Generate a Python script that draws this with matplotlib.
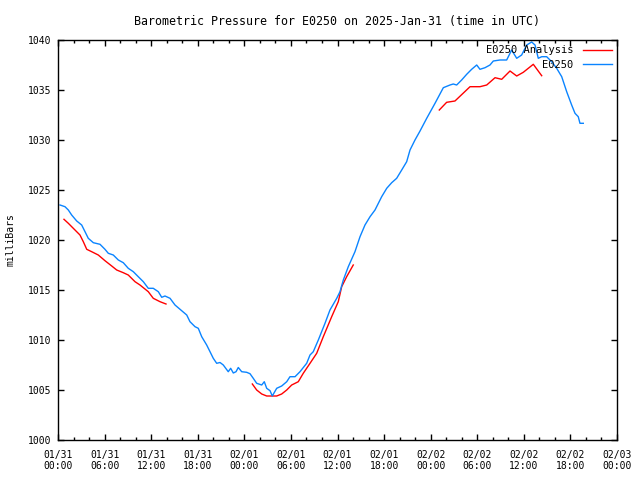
import datetime as dt
import numpy as np
import matplotlib
matplotlib.use("Agg")
import matplotlib.pyplot as plt
import matplotlib.dates as mdates

start = dt.datetime(2025, 1, 31)

# hours after 01/31 00:00 UTC, pressure in mb
obs_hours = [0.26, 0.90, 1.33, 1.76, 2.41, 3.05, 3.48, 3.90, 4.55, 5.41, 6.05, 6.48,
             7.12, 7.77, 8.41, 9.05, 9.70, 10.34, 10.99, 11.63, 12.27, 12.92, 13.36,
             13.78, 14.43, 15.07, 15.93, 16.58, 17.00, 17.65, 18.07, 18.51, 19.15,
             19.58, 20.00, 20.44, 20.87, 21.29, 21.93, 22.24, 22.58, 22.93, 23.22,
             23.66, 24.30, 24.73, 25.15, 25.59, 26.24, 26.57, 26.88, 27.31, 27.60,
             28.17, 28.81, 29.46, 29.88, 30.53, 31.17, 32.03, 32.46, 32.88, 33.53,
             34.39, 35.03, 35.90, 36.32, 36.75, 37.39, 38.25, 38.90, 39.54, 40.19,
             40.83, 41.69, 42.34, 42.98, 43.62, 44.27, 44.91, 45.34, 45.98, 46.63,
             47.49, 48.56, 49.63, 50.49, 50.91, 51.35, 51.99, 52.64, 53.28, 53.93,
             54.35, 55.00, 55.64, 56.07, 56.93, 57.79, 58.43, 59.08, 59.72, 60.37,
             61.01, 61.44, 61.86, 62.30, 62.94, 63.59, 64.23, 64.88, 65.52, 66.16,
             66.59, 67.01, 67.23, 67.66]
obs_mb = [1023.5, 1023.33, 1023.0, 1022.5, 1021.9, 1021.5, 1020.83, 1020.17, 1019.73,
          1019.57, 1019.07, 1018.67, 1018.5, 1018.0, 1017.73, 1017.17, 1016.83, 1016.33,
          1015.83, 1015.17, 1015.17, 1014.83, 1014.27, 1014.4, 1014.17, 1013.5, 1012.93,
          1012.5, 1011.83, 1011.33, 1011.17, 1010.33, 1009.5, 1008.83, 1008.17, 1007.67,
          1007.75, 1007.5, 1006.83, 1007.17, 1006.7, 1006.83, 1007.25, 1006.83, 1006.77,
          1006.63, 1006.17, 1005.67, 1005.5, 1005.83, 1005.17, 1004.93, 1004.4, 1005.17,
          1005.4, 1005.83, 1006.33, 1006.33, 1006.83, 1007.67, 1008.5, 1008.83, 1010.0,
          1011.67, 1013.0, 1014.17, 1014.83, 1016.0, 1017.33, 1018.83, 1020.33, 1021.5,
          1022.33, 1023.0, 1024.33, 1025.17, 1025.73, 1026.17, 1027.0, 1027.83, 1029.0,
          1030.0, 1030.9, 1032.17, 1033.67, 1035.23, 1035.5, 1035.6, 1035.5, 1036.0,
          1036.57, 1037.07, 1037.5, 1037.07, 1037.23, 1037.5, 1037.9, 1038.0, 1038.0,
          1039.0, 1038.17, 1038.5, 1039.5, 1039.8, 1039.5, 1038.17, 1038.33, 1038.33,
          1037.83, 1037.17, 1036.33, 1034.83, 1033.5, 1032.67, 1032.33, 1031.67, 1031.67]

# analysis: three separate runs, NaN marks the gaps
ana_hours = [0.77, 1.33, 1.97, 2.83, 3.26, 3.70, 4.34, 5.19, 6.05, 6.92, 7.56, 8.41,
             9.05, 9.92, 10.56, 11.63, 12.27, 13.14, 13.91, 19.0,
             25.03, 25.59, 26.24, 26.88, 28.17, 28.81, 29.46, 30.10, 30.95, 31.59,
             32.46, 33.32, 34.17, 35.25, 36.10, 36.54, 37.18, 38.03, 44.0,
             49.11, 50.06, 51.13, 53.07, 54.35, 55.22, 56.29, 57.15, 58.22, 59.08,
             59.93, 61.22, 62.30]
ana_mb = [1022.07, 1021.67, 1021.17, 1020.5, 1019.83, 1019.07, 1018.83, 1018.5, 1017.93,
          1017.4, 1017.0, 1016.73, 1016.5, 1015.83, 1015.5, 1014.83, 1014.17, 1013.83,
          1013.6, np.nan,
          1005.6, 1005.0, 1004.6, 1004.4, 1004.4, 1004.6, 1005.0, 1005.5, 1005.83,
          1006.67, 1007.67, 1008.67, 1010.33, 1012.33, 1013.83, 1015.33, 1016.33,
          1017.5, np.nan,
          1033.0, 1033.77, 1033.9, 1035.33, 1035.33, 1035.5, 1036.23, 1036.07, 1036.9,
          1036.4, 1036.77, 1037.57, 1036.43]

obs_t = [start + dt.timedelta(hours=h) for h in obs_hours]
ana_t = [start + dt.timedelta(hours=h) for h in ana_hours]

plt.rcParams['font.family'] = ['DejaVu Sans Mono']
plt.rcParams['font.size'] = 7

fig = plt.figure(figsize=(6.4, 4.8), dpi=100)
ax = fig.add_axes([58 / 640, 40 / 480, 559 / 640, 400 / 480])

ax.plot(ana_t, ana_mb, color='#ff0000', lw=1, label='E0250 Analysis')
ax.plot(obs_t, obs_mb, color='#0a84ff', lw=1, label='E0250')

ax.set_xlim(start, start + dt.timedelta(days=3))
ax.set_ylim(1000, 1040)
ax.set_yticks(range(1000, 1041, 5))

ax.xaxis.set_major_locator(mdates.HourLocator(byhour=[0, 6, 12, 18]))
ax.xaxis.set_minor_locator(mdates.HourLocator(interval=2))
ax.xaxis.set_major_formatter(mdates.DateFormatter('%m/%d\n%H:%M'))

ax.tick_params(which='both', direction='in', top=True, right=True, width=1)
ax.tick_params(which='major', length=4.5)
ax.tick_params(which='minor', length=2.5)
ax.tick_params(axis='x', pad=7)
ax.tick_params(axis='y', pad=5)
for s in ax.spines.values():
    s.set_linewidth(1)

ax.set_ylabel('milliBars', va='center')
ax.yaxis.set_label_coords(-0.085, 0.5)
ax.set_title('Barometric Pressure for E0250 on 2025-Jan-31 (time in UTC)', pad=11)

ax.legend(loc='upper right', frameon=False, markerfirst=False, handlelength=2.8,
          handletextpad=0.9, labelspacing=0.45, borderaxespad=0.2,
          borderpad=0.3, fontsize=7.5)

fig.savefig('out.png', dpi=100)
